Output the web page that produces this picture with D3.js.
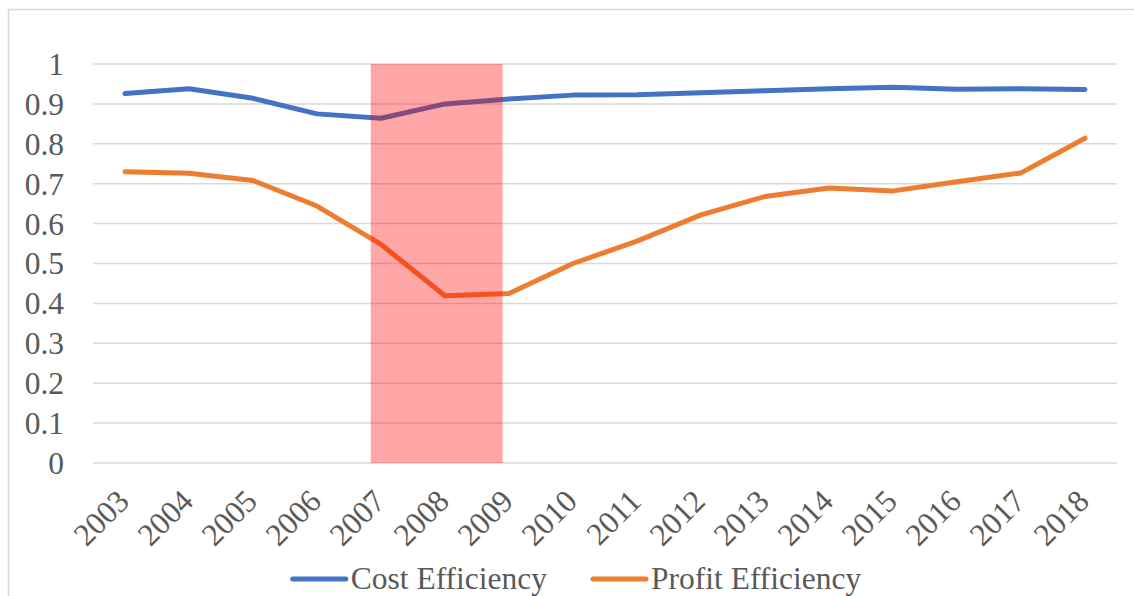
<!DOCTYPE html>
<html>
<head>
<meta charset="utf-8">
<script src="https://cdn.jsdelivr.net/npm/d3@7"></script>
<style>
  body { margin: 0; background: #fff; }
  svg { display: block; }
</style>
</head>
<body>
<svg width="1134" height="596"></svg>
<script>
// data
const years = ["2003", "2004", "2005", "2006", "2007", "2008", "2009", "2010",
  "2011", "2012", "2013", "2014", "2015", "2016", "2017", "2018"];
const costEfficiency = [0.926, 0.938, 0.914, 0.875, 0.864, 0.900, 0.912, 0.922,
  0.923, 0.928, 0.933, 0.938, 0.942, 0.937, 0.938, 0.936];
const profitEfficiency = [0.730, 0.726, 0.708, 0.644, 0.548, 0.419, 0.425, 0.500,
  0.556, 0.622, 0.668, 0.689, 0.682, 0.705, 0.727, 0.814];
const seriesNames = ["Cost Efficiency", "Profit Efficiency"];
const seriesColors = ["#4472C4", "#ED7D31"];
const crisisYears = ["2007", "2009"];

const svg = d3.select("svg");
const margin = { top: 64, right: 17, bottom: 133, left: 93 };
const width = +svg.attr("width");
const height = +svg.attr("height");
const fontFamily = '"Liberation Serif"';
const fontSize = "31.5px";
const textColor = "#595959";

// chart border
svg.append("rect")
  .attr("x", 8.5).attr("y", 9.5)
  .attr("width", width + 20).attr("height", height + 20)
  .attr("fill", "none").attr("stroke", "#D9D9D9").attr("stroke-width", 1.5);

const x = d3.scaleBand()
  .domain(years)
  .range([margin.left, width - margin.right]);

const y = d3.scaleLinear()
  .domain([0, 1])
  .range([height - margin.bottom, margin.top]);

// gridlines
svg.append("g")
  .selectAll("line")
  .data(y.ticks(10))
  .enter().append("line")
    .attr("x1", margin.left).attr("x2", width - margin.right)
    .attr("y1", (d) => y(d)).attr("y2", (d) => y(d))
    .attr("stroke", "#D9D9D9").attr("stroke-width", 1.5);

// y axis labels
const yAxis = svg.append("g")
  .attr("transform", `translate(${margin.left - 29},0)`)
  .call(d3.axisLeft(y).tickValues(y.ticks(10)).tickFormat(d3.format("~f")).tickSize(0).tickPadding(0));
yAxis.attr("font-family", null).attr("font-size", null);
yAxis.select(".domain").remove();
yAxis.selectAll("text")
  .style("font-family", fontFamily)
  .style("font-size", fontSize)
  .attr("fill", textColor)
  .attr("dy", "0.33em");

// x axis labels
svg.append("g")
  .selectAll("text")
  .data(years)
  .enter().append("text")
    .attr("transform", (d) => `translate(${x(d) + x.bandwidth() / 2 + 6},${y(0) + 40}) rotate(-45)`)
    .attr("text-anchor", "end")
    .attr("fill", textColor)
    .style("font-family", fontFamily)
    .style("font-size", fontSize)
    .text((d) => d);

// lines
const line = d3.line()
  .x((d, i) => x(years[i]) + x.bandwidth() / 2)
  .y((d) => y(d));

[costEfficiency, profitEfficiency].forEach((vals, k) => {
  svg.append("path")
    .datum(vals)
    .attr("d", line)
    .attr("fill", "none")
    .attr("stroke", seriesColors[k])
    .attr("stroke-width", 5)
    .attr("stroke-linecap", "round")
    .attr("stroke-linejoin", "round");
});

// crisis shading (on top, translucent)
const x0 = x(crisisYears[0]) + x.bandwidth() * 0.34;
const x1 = x(crisisYears[1]) + x.bandwidth() * 0.4;
svg.append("rect")
  .attr("x", x0)
  .attr("y", y(1))
  .attr("width", x1 - x0)
  .attr("height", y(0) - y(1))
  .attr("fill", "#FF0000")
  .attr("fill-opacity", 0.35);

// legend
const legend = svg.append("g");
let lx = 0;
seriesNames.forEach((name, k) => {
  const g = legend.append("g").attr("transform", `translate(${lx},0)`);
  g.append("line")
    .attr("x1", 2).attr("x2", 55)
    .attr("stroke", seriesColors[k])
    .attr("stroke-width", 5)
    .attr("stroke-linecap", "round");
  const t = g.append("text")
    .attr("x", 60)
    .attr("dy", "0.33em")
    .attr("fill", textColor)
    .style("font-family", fontFamily)
    .style("font-size", fontSize)
    .text(name);
  lx += 60 + t.node().getComputedTextLength() + 44;
});
const legendW = lx - 44;
legend.attr("transform", `translate(${576 - legendW / 2},579)`);
</script>
</body>
</html>
